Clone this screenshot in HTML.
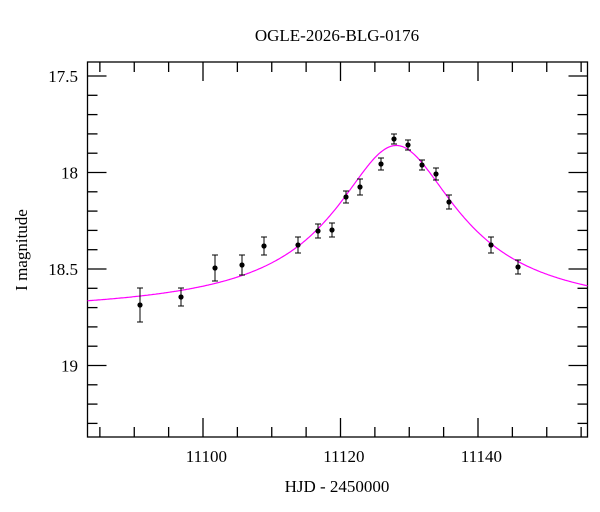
<!DOCTYPE html>
<html><head><meta charset="utf-8"><style>
html,body{margin:0;padding:0;background:#fff;}
svg{display:block;font-family:"Liberation Serif",serif;}
</style></head><body>
<svg id="s" width="600" height="512" xmlns="http://www.w3.org/2000/svg">
<text x="337" y="41" font-size="17" text-anchor="middle">OGLE-2026-BLG-0176</text>
<text x="337" y="492" font-size="17" text-anchor="middle">HJD - 2450000</text>
<text transform="translate(27,250) rotate(-90)" font-size="17" text-anchor="middle">I magnitude</text>
<g id="ax" stroke="#000" stroke-width="1.3" fill="none"></g>
<g id="lab" font-size="17" text-anchor="end"></g>
<path id="curve" stroke="#ff00ff" stroke-width="1.2" fill="none"/>
<g id="pts" stroke="#000" stroke-width="1"></g>
</svg>
<script>
var L=87.5,R=587.5,T=62,B=437;
function X(t){return 203+(t-11100)*6.875;}
function Y(m){return 172.5+(m-18)*193;}
var ax=document.getElementById('ax'),lab=document.getElementById('lab');
var h='<rect x="'+L+'" y="'+T+'" width="'+(R-L)+'" height="'+(B-T)+'"/>',lh='';
for(var t=11085;t<=11155;t+=5){var x=X(t),maj=(t%20==0),len=maj?19:10;
h+='<line x1="'+x+'" y1="'+B+'" x2="'+x+'" y2="'+(B-len)+'"/><line x1="'+x+'" y1="'+T+'" x2="'+x+'" y2="'+(T+len)+'"/>';
if(maj)lh+='<text x="'+(x+24)+'" y="'+(B+25)+'" text-anchor="end">'+t+'</text>';}
for(var k=174;k<=194;k++){var m=k/10,y=Y(m);if(y<T||y>B)continue;
var maj=(k%5==0),len=maj?19:10;
h+='<line x1="'+L+'" y1="'+y+'" x2="'+(L+len)+'" y2="'+y+'"/><line x1="'+R+'" y1="'+y+'" x2="'+(R-len)+'" y2="'+y+'"/>';
if(maj)lh+='<text x="78" y="'+(y+6)+'">'+(k%10==0?(k/10).toFixed(0):(k/10).toFixed(1))+'</text>';}
ax.innerHTML=h;lab.innerHTML=lh;
var base=18.74,D=0.88,t0=11128.1,w=9.9,p=0.8,d='';
for(var px=L;px<=R;px+=1){var t=11100+(px-203)/6.875,s=Math.pow((t-t0)/w,2);
var m=base-D*Math.pow(1+s,-p);d+=(d?'L':'M')+px+' '+Y(m).toFixed(1);}
document.getElementById('curve').setAttribute('d',d);
var P=[[140,305,17],[181,297,9],[215,268,13],[242,265,10],[264,246,9],[298,245,8],[318,231,7],[332,230,7],[346,197,6],[360,187,8],[381,164,6],[394,139,5],[408,145,5],[422,165,5],[436,174,6],[449,202,7],[491,245,8],[518,267,7]];
var g='';P.forEach(function(p){var x=p[0],y=p[1],e=p[2];
g+='<line x1="'+x+'" y1="'+(y-e)+'" x2="'+x+'" y2="'+(y+e)+'"/><line x1="'+(x-3)+'" y1="'+(y-e)+'" x2="'+(x+3)+'" y2="'+(y-e)+'"/><line x1="'+(x-3)+'" y1="'+(y+e)+'" x2="'+(x+3)+'" y2="'+(y+e)+'"/><circle cx="'+x+'" cy="'+y+'" r="2.6" fill="#000" stroke="none"/>';});
document.getElementById('pts').innerHTML=g;
</script>
</body></html>
